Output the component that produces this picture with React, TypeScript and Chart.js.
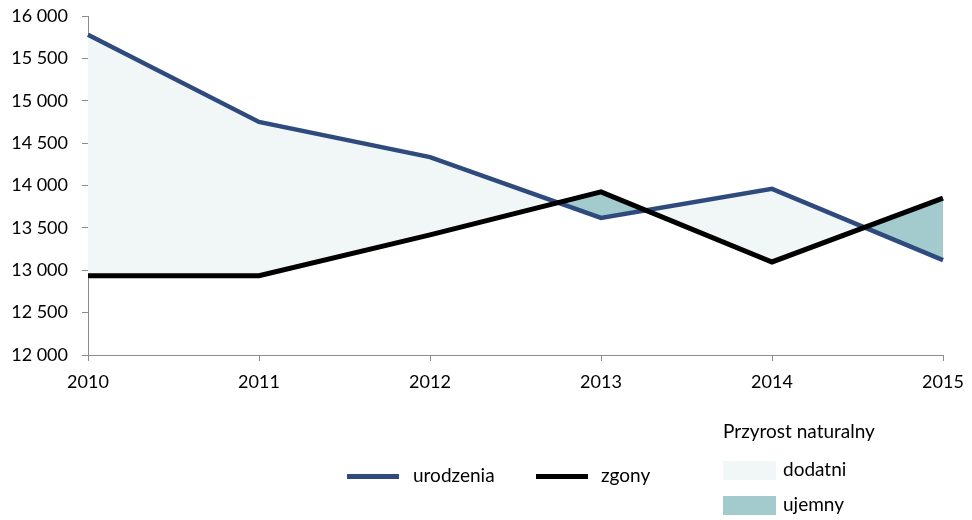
import React, { useEffect, useRef } from "react";
import { Chart, registerables } from "chart.js";

Chart.register(...registerables);

const years = ["2010", "2011", "2012", "2013", "2014", "2015"];
const urodzenia = [15780, 14750, 14335, 13617, 13960, 13120];
const zgony = [12935, 12935, 13418, 13925, 13098, 13852];
const yTicks = [12000, 12500, 13000, 13500, 14000, 14500, 15000, 15500, 16000];

const BLUE = "#2F4B7D";
const BLACK = "#000000";
const POS = "#F1F7F7";
const NEG = "#A3CACC";
const AXIS = "#8C8C8C";
const FONT = "Lato, 'Open Sans', sans-serif";

const fmt = (v: number) => String(v).replace(/\B(?=(\d{3})+(?!\d))/g, " ");

export default function App() {
  const ref = useRef<HTMLCanvasElement | null>(null);

  useEffect(() => {
    if (!ref.current) return;
    const chart = new Chart(ref.current, {
      type: "line",
      data: {
        labels: years,
        datasets: [
          {
            label: "urodzenia",
            data: urodzenia,
            borderColor: BLUE,
            borderWidth: 4.5,
            pointRadius: 0,
            tension: 0,
            fill: { target: 1, above: POS, below: NEG },
            order: 1,
          },
          {
            label: "zgony",
            data: zgony,
            borderColor: BLACK,
            borderWidth: 5,
            pointRadius: 0,
            tension: 0,
            fill: false,
            order: 0,
          },
        ],
      },
      options: {
        responsive: false,
        animation: false,
        devicePixelRatio: 1,
        layout: { padding: { top: 16, right: 29, bottom: 120, left: 0 } },
        plugins: {
          legend: { display: false },
          tooltip: { enabled: false },
        },
        scales: {
          x: {
            type: "category",
            offset: false,
            grid: {
              display: true,
              drawOnChartArea: false,
              drawTicks: true,
              tickLength: 6,
              color: AXIS,
            },
            border: { display: true, color: AXIS, width: 1 },
            ticks: {
              color: "#000",
              font: { family: FONT, size: 18 },
              padding: 10,
              maxRotation: 0,
            },
            afterFit: (s: any) => {
              s.height = 45;
              s.paddingLeft = 0;
              s.paddingRight = 0;
            },
          },
          y: {
            min: 12000,
            max: 16000,
            afterBuildTicks: (s: any) => {
              s.ticks = yTicks.map((v) => ({ value: v }));
            },
            grid: {
              display: true,
              drawOnChartArea: false,
              drawTicks: true,
              tickLength: 6,
              color: AXIS,
            },
            border: { display: true, color: AXIS, width: 1 },
            ticks: {
              color: "#000",
              font: { family: FONT, size: 18 },
              padding: 14,
              callback: (v: any) => fmt(Number(v)),
            },
            afterFit: (s: any) => {
              s.width = 88;
              s.paddingTop = 0;
              s.paddingBottom = 0;
            },
          },
        },
      },
    });
    return () => chart.destroy();
  }, []);

  const text: React.CSSProperties = {
    position: "absolute",
    fontFamily: FONT,
    fontSize: 19,
    color: "#000",
    lineHeight: "22px",
    whiteSpace: "nowrap",
  };

  return (
    <div style={{ position: "absolute", left: 0, top: 0, width: 972, height: 520, background: "#fff" }}>
      <canvas ref={ref} width={972} height={520} style={{ display: "block" }} />
      {/* line legend */}
      <div style={{ position: "absolute", left: 347, top: 474, width: 52, height: 5, background: BLUE }} />
      <div style={{ ...text, left: 413, top: 464 }}>urodzenia</div>
      <div style={{ position: "absolute", left: 536, top: 474, width: 52, height: 5, background: BLACK }} />
      <div style={{ ...text, left: 601, top: 464 }}>zgony</div>
      {/* fill legend */}
      <div style={{ ...text, left: 723, top: 420 }}>Przyrost naturalny</div>
      <div style={{ position: "absolute", left: 723, top: 461, width: 53, height: 19, background: POS }} />
      <div style={{ ...text, left: 783, top: 458 }}>dodatni</div>
      <div style={{ position: "absolute", left: 723, top: 496, width: 53, height: 19, background: NEG }} />
      <div style={{ ...text, left: 783, top: 493 }}>ujemny</div>
    </div>
  );
}
